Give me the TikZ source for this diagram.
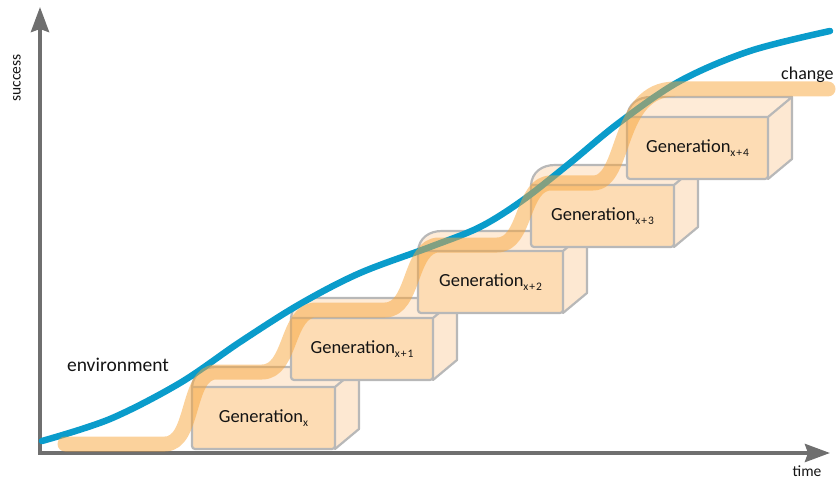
\documentclass[tikz,border=0pt]{standalone}
\usepackage{fontspec}
\setmainfont{Carlito}
\usetikzlibrary{arrows.meta}
\definecolor{axisgray}{HTML}{6F6F6F}
\definecolor{edgegray}{HTML}{B8B8B8}
\definecolor{frontfill}{HTML}{FDDCB4}
\definecolor{topfill}{HTML}{FEEBD7}
\definecolor{sidefill}{HTML}{FDE8D2}
\definecolor{bandorange}{HTML}{F8A53A}
\definecolor{curveblue}{HTML}{0A9CCB}
\definecolor{txt}{HTML}{141414}
\tikzset{
  axisline/.style={line width=4pt, draw=axisgray, line join=miter,
    {Stealth[length=25pt,width=18pt,inset=3pt]}-{Stealth[length=25pt,width=18pt,inset=3pt]}},
  boxedge/.style={draw=edgegray, line width=2.2pt, line join=round, line cap=round},
  band/.style={draw=bandorange, draw opacity=0.5, line width=15pt, line cap=round, line join=round},
  envcurve/.style={draw=curveblue, line width=6.5pt, line cap=round},
  genlabel/.style={text=txt, font=\fontsize{18.5}{21}\selectfont, inner sep=0pt},
  axislabel/.style={text=txt, font=\fontsize{15.5}{18}\selectfont, inner sep=0pt},
  biglabel/.style={text=txt, font=\fontsize{19.5}{22}\selectfont, inner sep=0pt},
}
\newcommand\gensub[1]{Generation{\fontsize{11.5}{11.5}\selectfont\addfontfeatures{LetterSpace=8}\raisebox{-3.5pt}{#1}}}
% #1 x0, #2 y0, #3 width
\newcommand\genbox[3]{%
\begin{scope}[shift={(#1,#2)}]
  \fill[topfill] (0,0) .. controls (1,-13) and (11,-20) .. (24,-20) -- (#3+24,-20) -- (#3,0) -- cycle;
  \fill[sidefill] (#3,0) -- (#3+24,-20) -- (#3+24,42) -- (#3,62) -- cycle;
  \fill[frontfill] (0,0) rectangle (#3,62);
  \draw[boxedge] (0,0) .. controls (1,-13) and (11,-20) .. (24,-20) -- (#3+24,-20) -- (#3,0) -- cycle;
  \draw[boxedge] (#3+24,-20) -- (#3+24,42) -- (#3,62);
  \draw[boxedge, rounded corners=3pt] (0,0) -- (0,62) -- (#3,62) -- (#3,0);
\end{scope}}
\begin{document}
\begin{tikzpicture}[x=1pt,y=-1pt]
\useasboundingbox (0,0) rectangle (837,481);
% axes
\coordinate (O) at (40,453);
\coordinate (ytip) at (40,7);
\coordinate (xtip) at (830,453);
\draw[axisline] (ytip) -- (O) -- (xtip);
% boxes
\genbox{192}{387}{143}
\genbox{291}{318}{142}
\genbox{418}{251}{145}
\genbox{531}{185}{143}
\genbox{627}{117}{141}
% environment curve
\draw[envcurve] plot[smooth, tension=0.55] coordinates {(42,441) (110,419) (180,383) (240,342) (300,304) (360,273) (430,247) (480,227) (523,200) (570,163) (620,122) (680,81) (750,51) (830,31)};
% change band
\draw[band] (65,444) -- (165,444) .. controls (195,444) and (186,372) .. (216,372)
  -- (262,372) .. controls (292,372) and (286,310) .. (316,310)
  -- (385,310) .. controls (415,310) and (409,245) .. (439,245)
  -- (497,245) .. controls (527,245) and (521,183) .. (551,183)
  -- (593,183) .. controls (627,183) and (615,89) .. (675,89)
  -- (828,89);
% labels
\node[genlabel] (g0) at (263.5,418) {\gensub{x}};
\node[genlabel] (g1) at (362,349) {\gensub{x+1}};
\node[genlabel] (g2) at (490.5,282) {\gensub{x+2}};
\node[genlabel] (g3) at (602.5,216) {\gensub{x+3}};
\node[genlabel] (g4) at (697.5,148) {\gensub{x+4}};
\node[biglabel] (env) at (118,365) {environment};
\node[biglabel, anchor=west, font=\fontsize{18}{21}\selectfont] (chg) at (781,75) {change};
\node[axislabel, rotate=90] (succ) at (17,78) {success};
\node[axislabel] (time) at (807,471) {time};
\end{tikzpicture}
\end{document}
